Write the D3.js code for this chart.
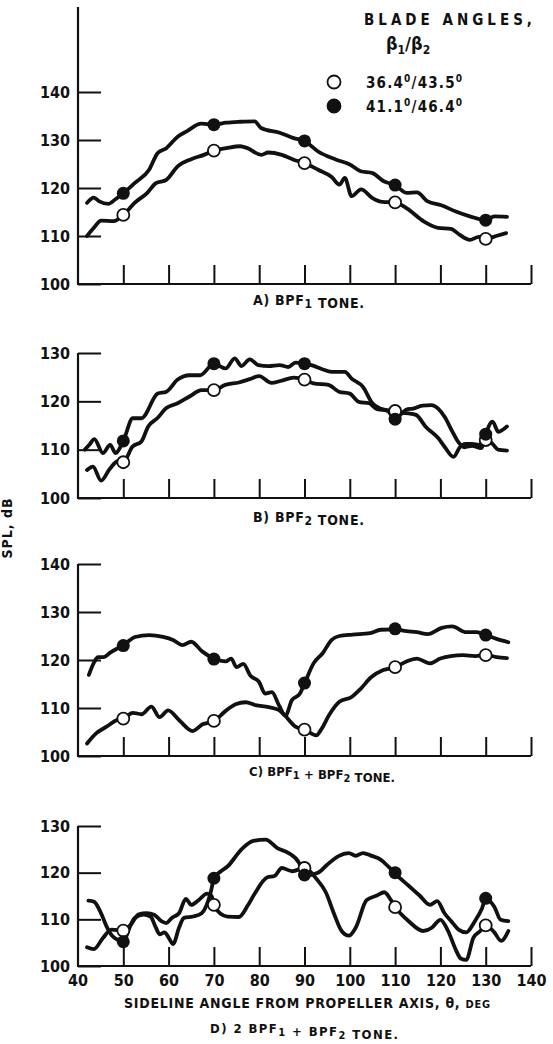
<!DOCTYPE html>
<html>
<head>
<meta charset="utf-8">
<script src="https://cdn.jsdelivr.net/npm/d3@7"></script>
<style>
  html, body { margin: 0; padding: 0; background: #fff; }
  svg text { font-family: "DejaVu Sans Condensed", "Liberation Sans", sans-serif; font-weight: bold; fill: #111; }
</style>
</head>
<body>
<svg id="chart" width="553" height="1044"></svg>
<script>
// sideline angle ticks, marker angles
var angleTicks = [40, 50, 60, 70, 80, 90, 100, 110, 120, 130, 140];
var markerAngles = [50, 70, 90, 110, 130];

// legend: blade angles beta1 / beta2
var beta1 = ["36.4", "41.1"];
var beta2 = ["43.5", "46.4"];

// A) BPF1 tone
var aOpen = [[42,110],[43.5,111.7],[45.1,113.2],[47.9,113.1],[50,114.4],[52.5,116.9],[55.3,119],[57.2,121],[59.5,121.7],[62,124.5],[65,126],[67.8,126.9],[70,127.8],[72.7,128.3],[75.8,128.7],[77.4,128.3],[80.5,126.9],[82,127.4],[85,126.9],[87.6,125.9],[90,125.2],[93,123.8],[96,122.3],[97.7,120.7],[98.9,122.1],[100.4,118.3],[102.5,119.7],[105,117.9],[107.2,117.1],[110,117],[112.5,115.8],[116.4,113],[119.5,111.7],[122.3,111.5],[124.2,110.3],[126.5,109.2],[128.5,109.8],[130,109.4],[132.3,110],[134.5,110.6]];
var aFilled = [[42,116.9],[43.5,118],[44.7,117.2],[46.7,116.7],[48.2,117.6],[50,118.9],[52.5,121],[55.7,123.8],[57.6,127.3],[59.5,128.3],[62,130.7],[64,131.8],[67.2,133.4],[70,133.2],[72.7,133.6],[75.8,133.8],[79,133.9],[80.4,132.5],[84.5,131.5],[87.6,130.4],[90,129.8],[93,127.6],[97,125.9],[100,124.9],[102.4,123.5],[105,123.1],[107.5,121.4],[110,120.6],[112.5,119],[114.8,119.1],[117.2,117.2],[120.2,116.4],[123.4,115.1],[126.5,114.1],[130,113.3],[131.9,114.1],[134.7,114]];
var aOpenMarks = [114.4, 127.8, 125.2, 117, 109.4];
var aFilledMarks = [118.9, 133.2, 129.8, 120.6, 113.3];

// B) BPF2 tone
var bOpen = [[42,105.8],[43.3,106.5],[45.1,103.6],[47,106],[48.8,107.6],[50,107.4],[52,110.6],[54,111.7],[55.5,114.8],[57.5,116.5],[59.5,118.6],[62,119.6],[64.6,121],[67.3,122.3],[70,122.3],[72.5,123.4],[75.5,123.9],[77.9,124.6],[80,125.2],[82.7,123.8],[85,124.3],[87.6,124.9],[90,124.5],[92,123.7],[95.3,123.4],[97.6,122],[100,121.6],[102,119.9],[104.3,119.6],[106,118.4],[108,118.2],[110,118],[111.5,117.6],[113,117.5],[114.6,117.2],[116.8,114.7],[119.6,112.3],[121,110.5],[122.9,108.5],[124.3,110.5],[125.5,111.2],[127,111.2],[128.5,111],[130,112],[131.5,111.2],[132.7,110],[134.7,109.8]];
var bFilled = [[41.5,110],[42.5,111],[43.6,112.2],[45.5,109.3],[47.1,111],[48.3,109.3],[50,111.8],[52.1,116.5],[54,116.5],[57.6,121.6],[59.5,122],[62,124.5],[64.6,125.4],[67,125.4],[70,127.8],[72.6,126.8],[74.6,128.9],[76.1,127.3],[77.9,128.7],[79.8,127.5],[82.1,127.3],[84.5,127.5],[86.4,127.1],[88,128],[90,127.8],[91.5,127.5],[93.8,126.7],[96,126.1],[98.9,126.1],[100.4,124.7],[102.9,123],[105,119.6],[106.5,118.6],[108.5,117.9],[110,116.3],[111.5,117.5],[112.5,118.3],[114,118.5],[116,119.1],[118,119.2],[119.5,118.5],[121,116.7],[122.5,114],[124,111.5],[125.3,110.5],[127,110.8],[129,110.3],[130,113.2],[131.5,115.8],[132.8,113.7],[134.7,114.8]];
var bOpenMarks = [107.4, 122.3, 124.5, 118, 112];
var bFilledMarks = [111.8, 127.8, 127.8, 116.3, 113.2];

// C) BPF1 + BPF2 tone
var cOpen = [[42,102.6],[44,104.7],[46.3,106.1],[48.6,107.5],[50,107.8],[52.1,109],[54,108.7],[56.2,110.3],[58,108.1],[59.9,109.5],[62.4,107.4],[65.3,105.2],[67.5,106.6],[70,107.3],[72.6,109.4],[74.8,110.8],[77,111.2],[79.2,110.6],[82.1,110.2],[84.3,109.6],[85.6,108.5],[88,106.1],[90,105.5],[92.6,104.3],[93.8,105.7],[95.4,108.5],[97.7,111.3],[100.4,112.3],[102.4,114],[104.7,116.4],[107.4,117.9],[110,118.5],[112.5,119.7],[114.8,120.3],[117.6,119.3],[120,120.3],[122.3,120.8],[125,121],[127.7,120.8],[130,121.1],[132.4,120.6],[134.7,120.4]];
var cFilled = [[42.4,116.9],[43.6,119.6],[44.4,120.6],[45.6,120.6],[47.2,121.6],[50,123.1],[52.6,124.8],[55.7,125.2],[58.8,124.8],[61.1,124.1],[63.1,123.1],[65,123.8],[67.4,121.8],[70,120.3],[72.6,119.7],[73.8,120.3],[75,118.5],[76.5,119.2],[78,116.8],[80,115.4],[81.3,113],[82.8,113.3],[84.4,110.5],[85.8,108.4],[87.2,111.6],[89,113],[90,115.1],[92,119.3],[94,121.4],[96,124.2],[97.7,125],[100.6,125.3],[104.5,125.6],[106.8,126.3],[110,126.4],[112.5,126],[114.8,125.8],[117.2,125.4],[120.3,126.7],[122.6,127],[125.7,125.8],[128,125.8],[130,125.2],[132.4,124.4],[135,123.7]];
var cOpenMarks = [107.8, 107.3, 105.5, 118.5, 121];
var cFilledMarks = [123, 120.2, 115.2, 126.5, 125.2];

// D) 2 BPF1 + BPF2 tone
var dOpen = [[42,104],[43.5,103.6],[45.5,106],[47.4,107.8],[50,107.6],[51.7,108.9],[53.3,111],[55.2,111.3],[56.8,111],[58.4,109.6],[59.5,109.2],[60.7,110.3],[62.3,111.3],[63.8,114.4],[65,113.1],[66.6,114.1],[68.5,115.5],[69.5,115],[70,113.1],[71.5,111.2],[73,110.6],[75.5,110.5],[77.5,113],[79,115.5],[81.8,119],[83.4,119.3],[85,121],[87.3,120.3],[90,121],[92.7,118.6],[94.7,115.8],[96.6,111],[98.2,107.5],[99.8,106.5],[101.3,108.2],[103.7,114.1],[106,115.1],[107.6,115.8],[109.1,114.1],[110,112.7],[113,109.6],[116.2,107.5],[118.1,108.2],[120,109.9],[121.7,107.5],[123.3,103.7],[124.5,101.6],[125.7,101.3],[127.3,106.1],[128.8,107.5],[130,108.7],[131.9,107.2],[133.4,105.4],[135,107.5]];
var dFilled = [[42.3,114],[43.5,113.8],[45,111.5],[46.3,108.5],[47.5,106.5],[49,105.5],[50,105.1],[51.2,107.8],[52.5,110.3],[54.5,111],[56,110.6],[57.2,108.2],[58,106.8],[59.1,107.2],[60,106.1],[61,104.7],[62.3,108.2],[63.4,110.3],[65.4,110.6],[67.3,111.3],[69.3,115.8],[70,118.7],[73.2,121.5],[76.3,125.2],[78.7,126.8],[81.4,127.1],[84.1,125.2],[86.5,124.2],[88.8,122.1],[90,119.4],[93,120],[95,121.7],[97.4,123.5],[99.8,124.2],[101.3,123.6],[102.9,124.2],[104.8,123.6],[106.8,122.8],[108.4,121.4],[110,119.8],[113,117.2],[115.4,115.1],[117.7,113.1],[119.3,113.9],[120.9,111.3],[122.4,109.6],[124,107.8],[125.7,107.2],[127.6,109.6],[129.2,112.4],[130,114.4],[131.9,112.7],[133.3,109.9],[135,109.6]];
var dOpenMarks = [107.6, 113.1, 121, 112.6, 108.7];
var dFilledMarks = [105.2, 118.8, 119.5, 120, 114.5];

// panel titles, [text, isSubscript]
var titleA = [["A) BPF", 0], ["1", 1], [" TONE.", 0]];
var titleB = [["B) BPF", 0], ["2", 1], [" TONE.", 0]];
var titleC = [["C) BPF", 0], ["1", 1], [" + BPF", 0], ["2", 1], [" TONE.", 0]];
var titleD = [["D) 2 BPF", 0], ["1", 1], [" + BPF", 0], ["2", 1], [" TONE.", 0]];

var panels = [
    { open: aOpen, filled: aFilled, openMarks: aOpenMarks, filledMarks: aFilledMarks, yTicks: [100, 110, 120, 130, 140], yMax: 140, y0: 284, y1: 92, top: 7, title: titleA, tx: 253, tw: 111, ty: 305, fs: 14 },
    { open: bOpen, filled: bFilled, openMarks: bOpenMarks, filledMarks: bFilledMarks, yTicks: [100, 110, 120, 130], yMax: 130, y0: 498, y1: 353, top: 353, title: titleB, tx: 253, tw: 111, ty: 522, fs: 14 },
    { open: cOpen, filled: cFilled, openMarks: cOpenMarks, filledMarks: cFilledMarks, yTicks: [100, 110, 120, 130, 140], yMax: 140, y0: 756, y1: 564, top: 564, title: titleC, tx: 249, tw: 146, ty: 776, fs: 13 },
    { open: dOpen, filled: dFilled, openMarks: dOpenMarks, filledMarks: dFilledMarks, yTicks: [100, 110, 120, 130], yMax: 130, y0: 966, y1: 826, top: 826, title: titleD, tx: 210, tw: 188, ty: 1033, fs: 13 }
];

var svg = d3.select("#chart");
svg.append("rect").attr("width", 553).attr("height", 1044).attr("fill", "#fff");

var x = d3.scaleLinear().domain([40, 140]).range([78, 531]);
var ink = "#111";

function writeParts(sel, parts, size) {
    parts.forEach(function (p) {
        sel.append("tspan")
            .attr("font-size", p[1] ? size - 2 : size)
            .attr("dy", p[1] ? 3 : 0)
            .text(p[0]);
        if (p[1]) sel.append("tspan").attr("dy", -3).text("");
    });
}

panels.forEach(function (p, i) {
    var y = d3.scaleLinear().domain([100, p.yMax]).range([p.y0, p.y1]);
    var g = svg.append("g");

    // y axis ticks point inward, labels to the left
    var ya = g.append("g").attr("transform", "translate(" + x(40) + ",0)")
        .call(d3.axisLeft(y).tickValues(p.yTicks).tickFormat(d3.format("d"))
            .tickSizeInner(-23).tickSizeOuter(0).tickPadding(8));
    ya.select(".domain").remove();
    ya.selectAll("line").attr("stroke", ink).attr("stroke-width", 2);
    ya.selectAll("text").attr("font-size", 16).attr("font-family", null).attr("fill", ink);

    // x ticks point up from the bottom line
    var xa = g.append("g").attr("transform", "translate(0," + p.y0 + ")")
        .call(d3.axisBottom(x).tickValues(angleTicks.slice(1))
            .tickSizeInner(-19).tickSizeOuter(0).tickPadding(9)
            .tickFormat(i == 3 ? d3.format("d") : ""));
    xa.select(".domain").remove();
    xa.selectAll("line").attr("stroke", ink).attr("stroke-width", 2);
    xa.selectAll("text").attr("font-size", 16).attr("font-family", null).attr("fill", ink);
    if (i == 3) {
        g.append("text").attr("x", x(40)).attr("y", p.y0 + 9).attr("dy", "0.71em")
            .attr("text-anchor", "middle").attr("font-size", 16).text(angleTicks[0]);
    }

    // frame: left and bottom lines
    g.append("path")
        .attr("d", "M" + x(40) + "," + p.top + "V" + p.y0 + "H" + x(140))
        .attr("fill", "none").attr("stroke", ink).attr("stroke-width", 2.2);

    var line = d3.line()
        .x(function (d) { return x(d[0]); })
        .y(function (d) { return y(d[1]); })
        .curve(d3.curveMonotoneX);

    [p.open, p.filled].forEach(function (s) {
        g.append("path").datum(s).attr("d", line)
            .attr("fill", "none").attr("stroke", ink).attr("stroke-width", 3.8)
            .attr("stroke-linejoin", "round").attr("stroke-linecap", "round");
    });

    g.selectAll("circle.open").data(p.openMarks).enter().append("circle")
        .attr("class", "open")
        .attr("cx", function (d, k) { return x(markerAngles[k]); })
        .attr("cy", function (d) { return y(d); })
        .attr("r", 6).attr("fill", "#fff").attr("stroke", ink).attr("stroke-width", 1.8);
    g.selectAll("circle.filled").data(p.filledMarks).enter().append("circle")
        .attr("class", "filled")
        .attr("cx", function (d, k) { return x(markerAngles[k]); })
        .attr("cy", function (d) { return y(d); })
        .attr("r", 6.5).attr("fill", ink);

    var t = g.append("text").attr("x", p.tx).attr("y", p.ty).attr("font-size", p.fs)
        .attr("textLength", p.tw);
    writeParts(t, p.title, p.fs);
});

// x axis title
var xt = svg.append("text").attr("x", 124).attr("y", 1008).attr("font-size", 14).attr("textLength", 366);
xt.append("tspan").text("SIDELINE ANGLE FROM PROPELLER AXIS, \u03b8, ");
xt.append("tspan").attr("font-size", 11).text("DEG");

// y axis title
svg.append("text").attr("transform", "translate(12,528) rotate(-90)")
    .attr("text-anchor", "middle").attr("font-size", 14).attr("letter-spacing", 1)
    .text("SPL, dB");

// legend
svg.append("text").attr("x", 364).attr("y", 25).attr("font-size", 15).attr("textLength", 168)
    .text("BLADE ANGLES,");
var bt = svg.append("text").attr("x", 386).attr("y", 50).attr("font-size", 18);
bt.append("tspan").text("\u03b2");
bt.append("tspan").attr("font-size", 12).attr("dy", 4).text("1");
bt.append("tspan").attr("dy", -4).text("/\u03b2");
bt.append("tspan").attr("font-size", 12).attr("dy", 4).text("2");

beta1.forEach(function (b, k) {
    var ly = 82 + k * 24;
    svg.append("circle").attr("cx", 334).attr("cy", ly).attr("r", 6.5)
        .attr("fill", k ? ink : "#fff").attr("stroke", ink).attr("stroke-width", 1.8);
    var lt = svg.append("text").attr("x", 366).attr("y", ly + 6).attr("font-size", 15).attr("textLength", 96);
    lt.append("tspan").text(b);
    lt.append("tspan").attr("font-size", 10).attr("dy", -6).text("0");
    lt.append("tspan").attr("dy", 6).text("/" + beta2[k]);
    lt.append("tspan").attr("font-size", 10).attr("dy", -6).text("0");
});
</script>
</body>
</html>
